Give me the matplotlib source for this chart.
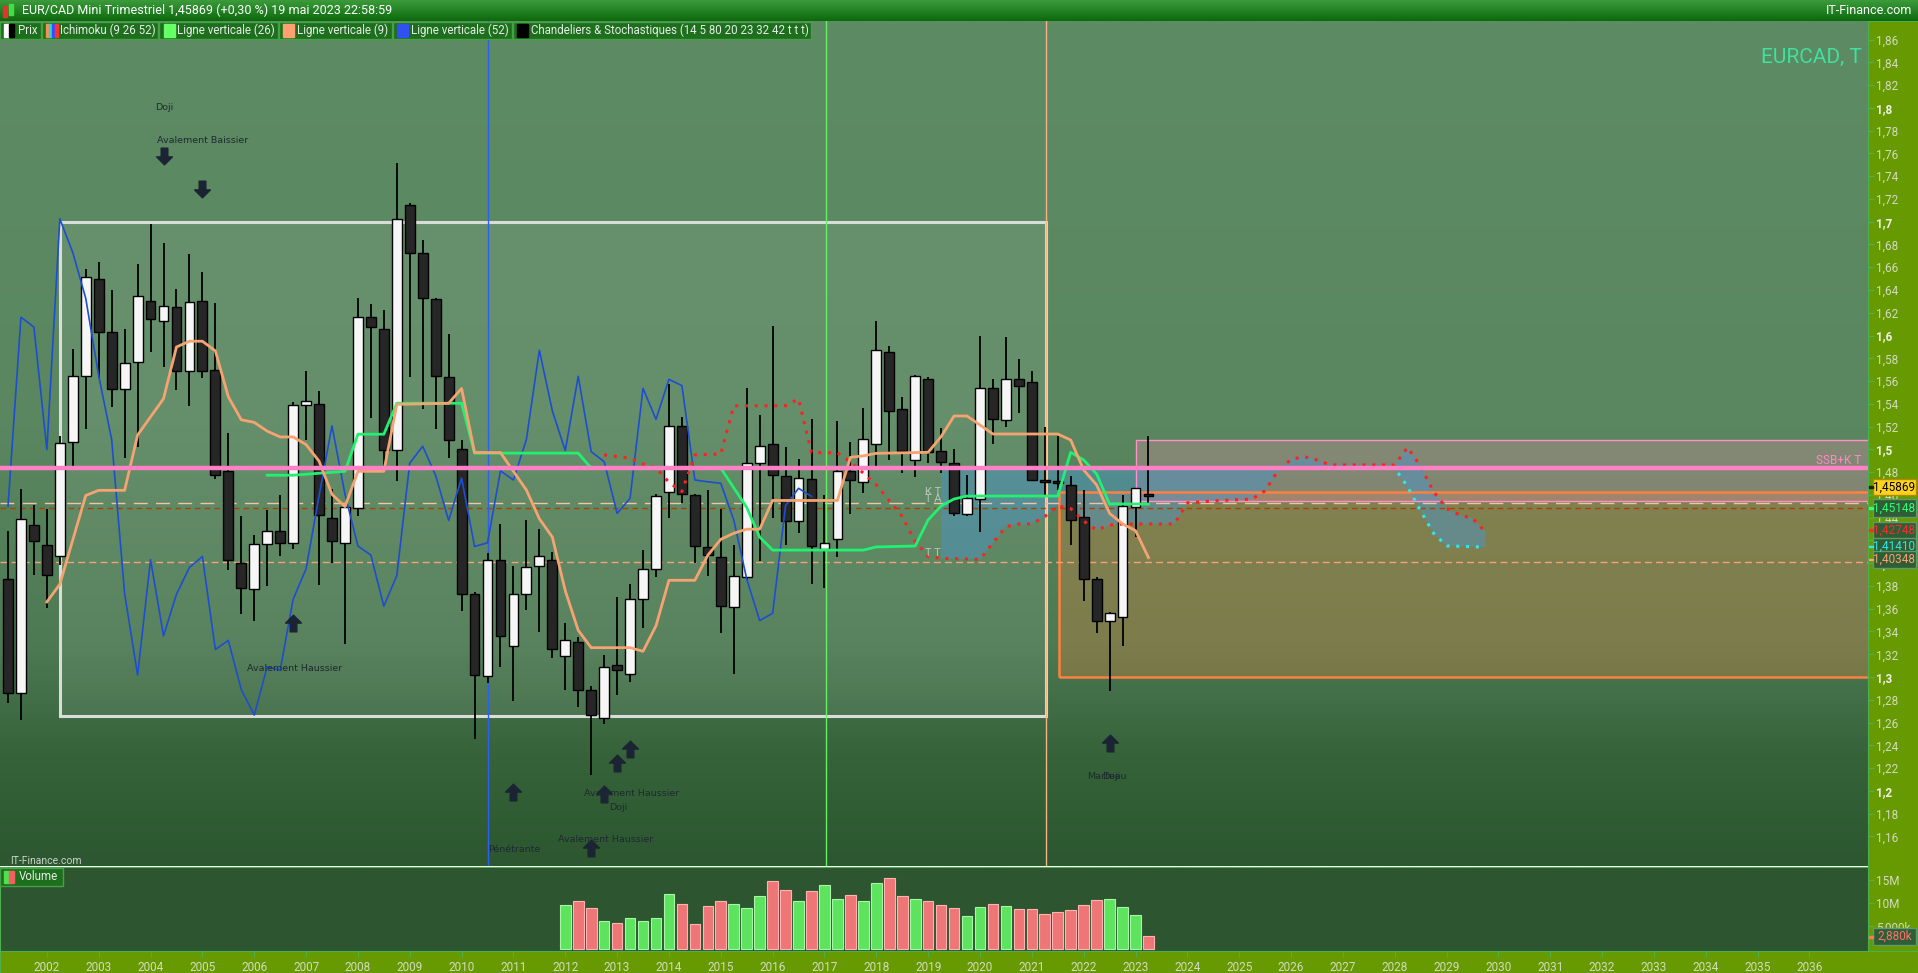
import numpy as np
import matplotlib.pyplot as plt
from matplotlib.patches import Rectangle
from matplotlib.path import Path
from matplotlib.colors import LinearSegmentedColormap

plt.rcParams['font.family'] = ['Roboto', 'DejaVu Sans']

# ---------------- data (quarterly EUR/CAD, first candle = 2001 Q2) ----------------
opens = [1.3865, 1.2864, 1.4336, 1.4161, 1.4060, 1.5069, 1.5647, 1.6497, 1.6030, 1.5526,
         1.5765, 1.6299, 1.6127, 1.6252, 1.5690, 1.6302, 1.5697, 1.4813, 1.4006, 1.3771,
         1.4168, 1.4279, 1.4178, 1.5388, 1.5395, 1.4393, 1.4178, 1.4487, 1.6161, 1.6057,
         1.4992, 1.7143, 1.6722, 1.6319, 1.5640, 1.5001, 1.3731, 1.3006, 1.4031, 1.3270,
         1.3727, 1.3979, 1.4027, 1.3182, 1.3310, 1.2890, 1.2642, 1.3110, 1.3030, 1.3682,
         1.3951, 1.4627, 1.5207, 1.4599, 1.4143, 1.4051, 1.3618, 1.3883, 1.4883, 1.5047,
         1.4767, 1.4371, 1.4743, 1.4127, 1.4211, 1.4810, 1.4715, 1.5047, 1.5859, 1.5355,
         1.4904, 1.5618, 1.4986, 1.4880, 1.4429, 1.4564, 1.5536, 1.5258, 1.5615, 1.5592,
         1.4731, 1.4715, 1.4687, 1.4406, 1.3862, 1.3493, 1.3525, 1.4491, 1.4606]
highs = [1.4285, 1.4655, 1.4511, 1.4477, 1.5120, 1.5882, 1.6581, 1.6645, 1.6396, 1.6057,
         1.6628, 1.6981, 1.6813, 1.6410, 1.6716, 1.6554, 1.6285, 1.5143, 1.4413, 1.4252,
         1.4464, 1.4595, 1.5412, 1.5687, 1.5512, 1.4648, 1.4510, 1.6329, 1.6279, 1.6225,
         1.7512, 1.7160, 1.6840, 1.6329, 1.6010, 1.5085, 1.3750, 1.4090, 1.4343, 1.3979,
         1.4379, 1.4303, 1.4100, 1.3478, 1.3350, 1.2920, 1.3190, 1.3702, 1.3819, 1.4119,
         1.4610, 1.5571, 1.5287, 1.4610, 1.4639, 1.4479, 1.4159, 1.5543, 1.5303, 1.6083,
         1.5023, 1.4911, 1.5267, 1.4599, 1.5247, 1.5063, 1.5359, 1.6127, 1.5911, 1.5463,
         1.5654, 1.5633, 1.5188, 1.5003, 1.4775, 1.5996, 1.5618, 1.5984, 1.5794, 1.5688,
         1.5200, 1.5118, 1.4766, 1.4643, 1.3877, 1.3572, 1.4597, 1.4662, 1.5118]
lows = [1.2773, 1.2622, 1.3892, 1.3603, 1.3980, 1.4840, 1.5183, 1.5630, 1.5368, 1.4924,
        1.5025, 1.5859, 1.5724, 1.5522, 1.5385, 1.5623, 1.4740, 1.3943, 1.3553, 1.3496,
        1.3798, 1.4060, 1.4127, 1.5085, 1.3805, 1.4006, 1.3294, 1.4413, 1.5277, 1.4850,
        1.4722, 1.5640, 1.5351, 1.5183, 1.4924, 1.3580, 1.2454, 1.2950, 1.3090, 1.2790,
        1.3590, 1.3398, 1.3170, 1.2882, 1.2738, 1.2142, 1.2590, 1.2842, 1.2958, 1.3430,
        1.3879, 1.4399, 1.4531, 1.4003, 1.3891, 1.3390, 1.3030, 1.3850, 1.4023, 1.4400,
        1.4163, 1.4263, 1.3819, 1.3779, 1.4051, 1.4431, 1.4619, 1.4831, 1.4903, 1.4795,
        1.4760, 1.4883, 1.4796, 1.4418, 1.4415, 1.4271, 1.5047, 1.5199, 1.5317, 1.4722,
        1.4600, 1.4643, 1.4160, 1.3669, 1.3390, 1.2881, 1.3276, 1.4234, 1.4520]
closes = [1.2857, 1.4386, 1.4195, 1.3892, 1.5059, 1.5647, 1.6511, 1.6030, 1.5526, 1.5758,
          1.6343, 1.6148, 1.6255, 1.5690, 1.6292, 1.5690, 1.4773, 1.4027, 1.3781, 1.4168,
          1.4279, 1.4178, 1.5388, 1.5422, 1.4420, 1.4191, 1.4497, 1.6161, 1.6074, 1.4998,
          1.7025, 1.6729, 1.6326, 1.5647, 1.5085, 1.3731, 1.3018, 1.4031, 1.3362, 1.3727,
          1.3963, 1.4059, 1.3242, 1.3322, 1.2890, 1.2666, 1.3090, 1.3058, 1.3682, 1.3951,
          1.4591, 1.5207, 1.4607, 1.4151, 1.4071, 1.3622, 1.3891, 1.4879, 1.5027, 1.4771,
          1.4375, 1.4747, 1.4147, 1.4179, 1.4811, 1.4731, 1.5087, 1.5871, 1.5339, 1.4989,
          1.5642, 1.4980, 1.4892, 1.4438, 1.4570, 1.5536, 1.5264, 1.5615, 1.5560, 1.4731,
          1.4715, 1.4702, 1.4380, 1.3862, 1.3496, 1.3560, 1.4506, 1.4658, 1.4587]

# volume (millions), first bar on candle 43 (2012 Q1)
vol_start = 43
volume = [9.56, 10.4, 8.9, 6.26, 5.82, 6.7, 6.26, 6.7, 11.98, 9.78, 5.6, 9.34, 10.4, 9.78,
          8.9, 11.5, 14.8, 12.86, 10.4, 12.64, 13.96, 10.88, 11.76, 10.4, 14.4, 15.5, 11.5,
          10.88, 10.4, 9.56, 8.9, 7.14, 9.12, 9.78, 9.34, 8.68, 8.68, 7.58, 8.02, 8.46, 9.56,
          10.66, 10.88, 9.12, 7.36, 2.88]

# ichimoku lines as (candle index, value) vertices
tenkan_x = [3, 4, 6, 7, 9, 10, 12, 13, 14, 15, 16, 17, 18, 19, 20, 21, 22, 23, 24, 25, 26, 27,
            29, 30, 34, 35, 36, 38, 40, 41, 42, 43, 44, 45, 48, 49, 50, 51, 53, 54, 55, 56, 57,
            58, 59, 64, 65, 66, 67, 71, 72, 73, 74, 76, 81, 82, 83, 84, 85, 86, 87, 88]
tenkan_y = [1.366, 1.3815, 1.4595, 1.464, 1.464, 1.5126, 1.5445, 1.5899, 1.595, 1.595, 1.5865,
            1.5462, 1.526, 1.5237, 1.516, 1.5109, 1.5109, 1.5042, 1.4897, 1.4605, 1.4497,
            1.4807, 1.4807, 1.5395, 1.5405, 1.5535, 1.4973, 1.4971, 1.4643, 1.439, 1.423,
            1.3758, 1.341, 1.3258, 1.3258, 1.3226, 1.345, 1.385, 1.385, 1.407, 1.421, 1.4263,
            1.4299, 1.4299, 1.4551, 1.4551, 1.493, 1.4943, 1.4965, 1.4974, 1.5112, 1.5293,
            1.5293, 1.5135, 1.5135, 1.5082, 1.4819, 1.4687, 1.4438, 1.4345, 1.4286, 1.4049]
kijun_x = [20, 22, 26, 27, 29, 30, 35, 36, 44, 45, 55, 57, 58, 59, 66, 67, 70, 71, 72, 73, 74,
           81, 82, 83, 84, 85, 88]
kijun_y = [1.4773, 1.4773, 1.4807, 1.5133, 1.5133, 1.5405, 1.5405, 1.4967, 1.4967, 1.4835,
           1.4835, 1.449, 1.423, 1.4115, 1.4115, 1.4143, 1.4151, 1.438, 1.4503, 1.4564, 1.459,
           1.459, 1.4974, 1.4907, 1.4784, 1.452, 1.452]
ssa_x = [46, 48, 49, 50, 51, 52, 53, 55, 56, 60, 61, 62, 64, 65, 66, 67, 68, 69, 70, 71, 72,
         75, 76, 77, 78, 79, 80, 81, 82, 83, 84, 85, 86, 90, 91, 93, 96, 97, 98, 99, 100, 101,
         102, 107, 108, 109, 110, 111, 112, 113, 114]
ssa_y = [1.4951, 1.4923, 1.4871, 1.4839, 1.471, 1.463, 1.4951, 1.4959, 1.5383, 1.5383, 1.5443,
         1.4971, 1.4971, 1.4891, 1.4791, 1.469, 1.455, 1.441, 1.419, 1.4058, 1.4043, 1.4034,
         1.418, 1.4321, 1.4345, 1.4345, 1.441, 1.4503, 1.448, 1.437, 1.4292, 1.4335, 1.4345,
         1.4345, 1.453, 1.4547, 1.4564, 1.4637, 1.4813, 1.4912, 1.4936, 1.4907, 1.4863,
         1.4863, 1.5018, 1.4848, 1.4629, 1.4482, 1.4424, 1.4395, 1.4275]
ssb_x = [72, 107, 108, 109, 110, 111, 114]
ssb_y = [1.4835, 1.4835, 1.467, 1.446, 1.4263, 1.4152, 1.4141]
chikou_shift = 26

# drawn objects
ssb_k_level = 1.4835
dash_levels = [1.4525, 1.4483, 1.4008]
vlines_idx = [37.05, 63.1, 80.1]          # Ligne verticale (52), (26), (9)
white_box = (4.0, 80.1, 1.2655, 1.70)
orange_box = (81.1, 1.3004, 1.4629)
pink_box = (87.07, 1.4547, 1.508)

years = list(range(2002, 2037))
price_ticks = [round(1.16 + 0.02 * k, 2) for k in range(36)]

patterns_down = [(12, 1.7577), (15, 1.7287)]
patterns_up = [(22, 1.3479), (39, 1.1991), (47, 1.2249), (48, 1.2370), (46, 1.1970),
               (45, 1.1497), (85, 1.2424)]
pattern_texts = [('Doji', 12.04, 1.8002), ('Avalement Baissier', 15.05, 1.7711),
                 ('Avalement Haussier', 22.15, 1.3075), ('Pénétrante', 39.04, 1.1482),
                 ('Avalement Haussier', 48.1, 1.1978), ('Doji', 47.1, 1.1857),
                 ('Avalement Haussier', 46.1, 1.1577), ('Marteau', 84.8, 1.2125),
                 ('Doji', 85.1, 1.2125)]

axis_labels = [('1,45869', 487.0, '#000000', '#ffd21f', '#b08a00'),
               ('1,45148', 508.0, '#33ff77', '#2f5d36', '#5f9a6a'),
               ('1,42748', 530.0, '#ff2a2a', '#2f5d36', '#5f9a6a'),
               ('1,41410', 546.5, '#33e6e6', '#2f5d36', '#5f9a6a'),
               ('1,40348', 559.5, '#ffa070', '#2f5d36', '#5f9a6a')]

# ---------------- figure ----------------
W, H = 1918, 973
fig = plt.figure(figsize=(W / 100, H / 100), dpi=100)


def fx(x):
    return x / W


def fy(y):
    return 1 - y / H


def fig_rect(x0, y0, x1, y1, **kw):
    fig.add_artist(Rectangle((fx(x0), fy(y1)), fx(x1) - fx(x0), fy(y0) - fy(y1),
                             transform=fig.transFigure, **kw))


olive = '#679a00'
ax_strip = fig.add_axes([fx(1868), 0, 1 - fx(1868), fy(21)])
ax_strip.set_facecolor(olive)
ax_strip.set_xticks([])
ax_strip.set_yticks([])
for s in ax_strip.spines.values():
    s.set_color('#4fae4f')
ax_band = fig.add_axes([0, 0, 1, fy(951)])
ax_band.set_facecolor(olive)
ax_band.set_xticks([])
ax_band.set_yticks([])
for s in ax_band.spines.values():
    s.set_color('#4fae4f')

# title bar
ax_t = fig.add_axes([0, fy(21), 1, 21 / H])
tb = LinearSegmentedColormap.from_list('tb', ['#3b9b3b', '#0c6a0c'])
ax_t.imshow(np.linspace(0, 1, 50).reshape(-1, 1), cmap=tb, aspect='auto',
            extent=(0, 1, 0, 1))
ax_t.axis('off')

# ---------------- price panel ----------------
X0, X1 = -0.617, 143.52
Y0, Y1 = 1.134, 1.8763
ax = fig.add_axes([0, fy(866), fx(1868), (866 - 21) / H])
ax.set_xlim(X0, X1)
ax.set_ylim(Y0, Y1)
bg = LinearSegmentedColormap.from_list(
    'bg', [(0, '#5d8b63'), (0.48, '#5a875f'), (0.74, '#4d7a53'), (0.87, '#36633a'),
           (1.0, '#2c5730')])
ax.imshow(np.linspace(0, 1, 300).reshape(-1, 1), cmap=bg, aspect='auto',
          extent=(X0, X1, Y0, Y1), origin='upper', zorder=0)

# rectangles
wx0, wx1, wy0, wy1 = white_box
ax.add_patch(Rectangle((wx0, wy0), wx1 - wx0, wy1 - wy0, facecolor='white', alpha=0.07,
                       zorder=1))
ax.add_patch(Rectangle((wx0, wy0), wx1 - wx0, wy1 - wy0, fill=False, edgecolor='#d9dcd9',
                       lw=2.2, zorder=1.5))
ox0, oy0, oy1 = orange_box
ax.add_patch(Rectangle((ox0, oy0), 200, oy1 - oy0, facecolor='#d08040', alpha=0.36,
                       lw=0, zorder=1))
ax.add_patch(Rectangle((ox0, oy0), 200, oy1 - oy0, fill=False, edgecolor='#ff8040',
                       lw=1.8, zorder=1.6))
px0, py0, py1 = pink_box
ax.add_patch(Rectangle((px0, py0), 200, py1 - py0, facecolor='#f090b0', alpha=0.28,
                       lw=0, zorder=1.1))
ax.add_patch(Rectangle((px0, py0), 200, py1 - py0, fill=False, edgecolor='#ff90c8',
                       lw=1.0, zorder=1.6))

# kumo
cloud_x = [x for x in ssa_x if x >= ssb_x[0]] + ssb_x[::-1]
cloud_y = [y for x, y in zip(ssa_x, ssa_y) if x >= ssb_x[0]] + ssb_y[::-1]
ax.fill(cloud_x, cloud_y, color='#4896d0', alpha=0.45, lw=0, zorder=1.2)

# horizontal dashed levels
ax.axhline(dash_levels[0], color='#f2c2aa', lw=1.0, dashes=(10, 6), zorder=2)
ax.axhline(dash_levels[1], color='#a84400', lw=1.0, dashes=(4, 3), zorder=2)
ax.axhline(dash_levels[2], color='#f4a27a', lw=1.0, dashes=(5, 3), zorder=2)

# vertical lines
for xv, col in zip(vlines_idx, ['#2d5ff0', '#66f066', '#f7b088']):
    ax.axvline(xv, color=col, lw=1.0, zorder=2)

# candles
idx = np.arange(len(closes))
o = np.array(opens)
c = np.array(closes)
bull = c >= o
body_lo = np.minimum(o, c)
body_h = np.maximum(np.abs(c - o), 0.0018)
ax.vlines(idx, lows, highs, color='black', lw=1.3, zorder=3)
ax.bar(idx, body_h, bottom=body_lo, width=0.76,
       color=np.where(bull, '#f6f6f6', '#262626'), edgecolor='black', lw=1.0, zorder=3.5)

# ichimoku
ax.plot(idx[:-chikou_shift], closes[chikou_shift:], color='#1e4ed0', lw=1.2, zorder=4)
ax.plot(tenkan_x, tenkan_y, color='#f6a372', lw=2.0, zorder=4.2)
ax.plot(kijun_x, kijun_y, color='#22f070', lw=2.0, zorder=4.1)
ax.plot(ssb_x, ssb_y, color='#2fe8e8', lw=2.2, dashes=(1, 2.2), zorder=4)
ax.plot(ssa_x, ssa_y, color='#ff2020', lw=2.2, dashes=(1, 2.2), zorder=4.05)
ax.axhline(ssb_k_level, color='#ff80c4', lw=3.2, zorder=5)
ax.text(143.0, 1.4898, 'SSB+K T', color='#ff88c6', fontsize=8.5, ha='right', va='center',
        zorder=6)
ax.text(71.4, 1.4625, 'K T', color='#b8c4b8', fontsize=8, ha='center', va='center', zorder=6)
ax.text(71.4, 1.4565, 'T A', color='#b8c4b8', fontsize=8, ha='center', va='center', zorder=6)
ax.text(71.4, 1.4089, 'T T', color='#b8c4b8', fontsize=8, ha='center', va='center', zorder=6)

# candle pattern markers
up_arrow = Path([(0, 1), (0.95, 0.05), (0.4, 0.05), (0.4, -1), (-0.4, -1), (-0.4, 0.05),
                 (-0.95, 0.05), (0, 1)], closed=True)
down_arrow = Path([(x, -y) for x, y in up_arrow.vertices], closed=True)
for xi, yi in patterns_up:
    ax.plot(xi, yi, marker=up_arrow, markersize=12, color='#1b2433', ls='none', zorder=6)
for xi, yi in patterns_down:
    ax.plot(xi, yi, marker=down_arrow, markersize=12, color='#1b2433', ls='none', zorder=6)
for txt, xi, yi in pattern_texts:
    ax.text(xi, yi, txt, color='#1e2a30', fontsize=6.8, ha='center', va='center',
            family='DejaVu Sans', zorder=6)

ax.text(143.0, 1.8445, 'EURCAD, T', color='#3fe0a0', fontsize=15, ha='right', va='center',
        zorder=6)
ax.text(0.15, 1.1385, 'IT-Finance.com', color='#c9d4c9', fontsize=7.5, ha='left',
        va='center', zorder=6)

ax.set_xticks([])
ax.yaxis.tick_right()
ax.set_yticks(price_ticks)
ylabels = []
for v in price_ticks:
    s = f'{v:.2f}'
    if s.endswith('0'):
        s = s[:-1]
    ylabels.append(s.replace('.', ','))
ax.set_yticklabels(ylabels)
ax.tick_params(axis='y', direction='out', length=4, width=1, color='#4fae4f',
               labelcolor='#d2dac2', labelsize=8.5, pad=2)
for lbl in ax.get_yticklabels():
    if len(lbl.get_text()) == 3:
        lbl.set_fontweight('bold')
        lbl.set_color('#eef2e6')
for name, s in ax.spines.items():
    s.set_visible(name == 'right')
    s.set_color('#4fae4f')

# ---------------- volume panel ----------------
axv = fig.add_axes([0, fy(951), fx(1868), (951 - 867) / H])
axv.set_facecolor('#2c5530')
axv.set_xlim(X0, X1)
axv.set_ylim(-0.324, 17.81)
vidx = np.arange(vol_start, vol_start + len(volume))
vbull = bull[vol_start:vol_start + len(volume)]
axv.bar(vidx, volume, width=0.82, color=np.where(vbull, '#5de35d', '#ee7676'),
        edgecolor=np.where(vbull, '#a8f7a8', '#ffb4b4'), lw=0.8, zorder=3)
axv.yaxis.tick_right()
axv.set_yticks([5, 10, 15])
axv.set_yticklabels(['5,000k', '10M', '15M'])
axv.tick_params(axis='y', direction='out', length=4, color='#4fae4f', labelcolor='#d2dac2',
                labelsize=8.5, pad=2)
axv.set_xticks([(y - 2001) * 4 - 1 for y in years])
axv.set_xticklabels([str(y) for y in years])
axv.tick_params(axis='x', direction='out', length=4, color='#4fae4f', labelcolor='#d2dac2',
                labelsize=8.5, pad=3)
for s in axv.spines.values():
    s.set_color('#4fae4f')

# ---------------- overlays: title, legend, axis labels ----------------
fig_rect(3, 6, 7, 17, color='#e83030')
fig_rect(9, 4, 13, 15, color='#40e040')
fig.text(fx(22), fy(10.5), 'EUR/CAD Mini Trimestriel 1,45869 (+0,30 %) 19 mai 2023 22:58:59',
         color='white', fontsize=9, va='center', ha='left')
fig.text(fx(1912), fy(10.5), 'IT-Finance.com', color='white', fontsize=9, va='center',
         ha='right')

legend = [(0, 41, 'Prix'), (41.5, 158, 'Ichimoku (9 26 52)'),
          (159, 278, 'Ligne verticale (26)'), (279, 392, 'Ligne verticale (9)'),
          (393, 512, 'Ligne verticale (52)'),
          (513, 811, 'Chandeliers & Stochastiques (14 5 80 20 23 32 42 t t t)')]
for x0, x1, txt in legend:
    fig_rect(x0, 22, x1, 39, facecolor='#1d6e1d', edgecolor='#46a046', lw=1)
    fig.text(fx(x0 + 18), fy(30.5), txt, color='#e6ece6', fontsize=8.3, va='center',
             ha='left')
fig_rect(4, 24.5, 8.5, 36.5, color='white')
fig_rect(8.5, 24.5, 13.5, 36.5, color='black')
for k, col in enumerate(['#ff8c50', '#30d0d0', '#3050ff', '#ff3030']):
    fig_rect(46 + 3 * k, 24.5, 48.5 + 3 * k, 36.5, color=col)
fig_rect(164, 24.5, 175, 36.5, color='#66ff66')
fig_rect(283, 24.5, 294, 36.5, color='#ffa070')
fig_rect(397, 24.5, 408, 36.5, color='#3050f0')
fig_rect(517, 24.5, 528, 36.5, color='black')

fig_rect(0, 868, 63, 886, facecolor='#1d6e1d', edgecolor='#46a046', lw=1)
fig_rect(4, 871, 9, 883, color='#50e050')
fig_rect(9, 871, 14, 883, color='#f06060')
fig.text(fx(19), fy(877), 'Volume', color='#e6ece6', fontsize=8.3, va='center', ha='left')

for txt, yc, tc, fc, ec in axis_labels:
    fig_rect(1873, yc - 8.5, 1916, yc + 8.5, facecolor=fc, edgecolor=ec, lw=1)
    fig_rect(1869, yc - 0.8, 1873, yc + 0.8, color=tc if tc != '#000000' else '#202020')
    fig.text(fx(1894.5), fy(yc), txt, color=tc, fontsize=8.5, va='center', ha='center')
fig_rect(1873, 928, 1916, 945, facecolor='#2f5d36', edgecolor='#5f9a6a', lw=1)
fig_rect(1869, 936, 1873, 937.5, color='#ff7070')
fig.text(fx(1894.5), fy(936.5), '2,880k', color='#ff7070', fontsize=8.5, va='center',
         ha='center')

fig.savefig('out.png', dpi=100)
